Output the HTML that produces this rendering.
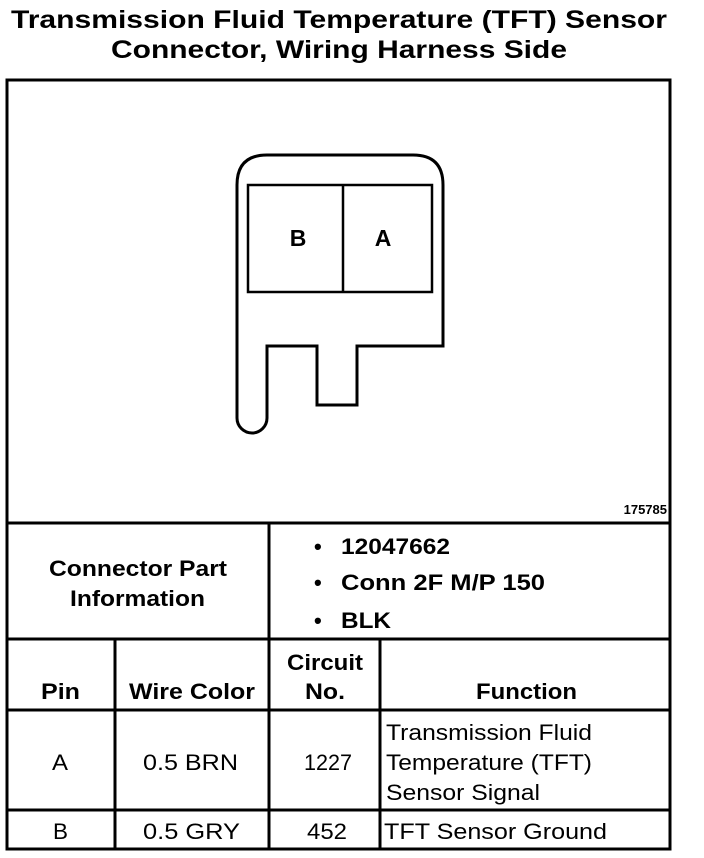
<!DOCTYPE html>
<html><head><meta charset="utf-8"><style>
html,body{margin:0;padding:0;background:#fff;}
svg{display:block;}
text{font-family:"Liberation Sans",Arial,sans-serif;fill:#000;}
.b{font-weight:bold;}
</style></head><body>
<svg width="704" height="858" viewBox="0 0 704 858" xmlns="http://www.w3.org/2000/svg">
<text class="b" x="339" y="28" font-size="25" text-anchor="middle" textLength="656" lengthAdjust="spacingAndGlyphs">Transmission Fluid Temperature (TFT) Sensor</text>
<text class="b" x="339" y="58" font-size="25" text-anchor="middle" textLength="456" lengthAdjust="spacingAndGlyphs">Connector, Wiring Harness Side</text>
<g fill="none" stroke="#000" stroke-width="3">
<rect x="7" y="80" width="663" height="769"/>
<line x1="7" y1="523" x2="670" y2="523"/>
<line x1="7" y1="639" x2="670" y2="639"/>
<line x1="7" y1="710" x2="670" y2="710"/>
<line x1="7" y1="810" x2="670" y2="810"/>
<line x1="269" y1="523" x2="269" y2="849"/>
<line x1="115" y1="639" x2="115" y2="849"/>
<line x1="380" y1="639" x2="380" y2="849"/>
<path d="M237,418 L237,185 Q237,155 267,155 L413,155 Q443,155 443,185 L443,346 L357,346 L357,405 L317,405 L317,346 L267,346 L267,418 A15,15 0 0 1 237,418 Z"/>
<rect x="248" y="185" width="184" height="107" stroke-width="2.5"/>
<line x1="343" y1="185" x2="343" y2="292" stroke-width="2.5"/>
</g>
<text class="b" x="298" y="246" font-size="23" text-anchor="middle">B</text>
<text class="b" x="383" y="246" font-size="23" text-anchor="middle">A</text>
<text class="b" x="667" y="514" font-size="13" text-anchor="end">175785</text>
<g font-size="22" lengthAdjust="spacingAndGlyphs">
<text class="b" x="49" y="576" textLength="178" lengthAdjust="spacingAndGlyphs">Connector Part</text>
<text class="b" x="70" y="606" textLength="135" lengthAdjust="spacingAndGlyphs">Information</text>
<text class="b" x="314" y="554">•</text><text class="b" x="341" y="554" textLength="109" lengthAdjust="spacingAndGlyphs">12047662</text>
<text class="b" x="314" y="590">•</text><text class="b" x="341" y="590" textLength="204" lengthAdjust="spacingAndGlyphs">Conn 2F M/P 150</text>
<text class="b" x="314" y="628">•</text><text class="b" x="341" y="628" textLength="50" lengthAdjust="spacingAndGlyphs">BLK</text>
<text class="b" x="41" y="699" textLength="39" lengthAdjust="spacingAndGlyphs">Pin</text>
<text class="b" x="129" y="699" textLength="126" lengthAdjust="spacingAndGlyphs">Wire Color</text>
<text class="b" x="287" y="670" textLength="76" lengthAdjust="spacingAndGlyphs">Circuit</text>
<text class="b" x="305" y="699" textLength="40" lengthAdjust="spacingAndGlyphs">No.</text>
<text class="b" x="476" y="699" textLength="101" lengthAdjust="spacingAndGlyphs">Function</text>
<text x="52" y="770" textLength="16" lengthAdjust="spacingAndGlyphs">A</text>
<text x="143" y="770" textLength="95" lengthAdjust="spacingAndGlyphs">0.5 BRN</text>
<text x="304" y="770" textLength="48" lengthAdjust="spacingAndGlyphs">1227</text>
<text x="386" y="740" textLength="206" lengthAdjust="spacingAndGlyphs">Transmission Fluid</text>
<text x="386" y="770" textLength="206" lengthAdjust="spacingAndGlyphs">Temperature (TFT)</text>
<text x="386" y="800" textLength="154" lengthAdjust="spacingAndGlyphs">Sensor Signal</text>
<text x="53" y="839" textLength="15" lengthAdjust="spacingAndGlyphs">B</text>
<text x="143" y="839" textLength="97" lengthAdjust="spacingAndGlyphs">0.5 GRY</text>
<text x="307" y="839" textLength="40" lengthAdjust="spacingAndGlyphs">452</text>
<text x="384" y="839" textLength="223" lengthAdjust="spacingAndGlyphs">TFT Sensor Ground</text>
</g>
</svg>
</body></html>
